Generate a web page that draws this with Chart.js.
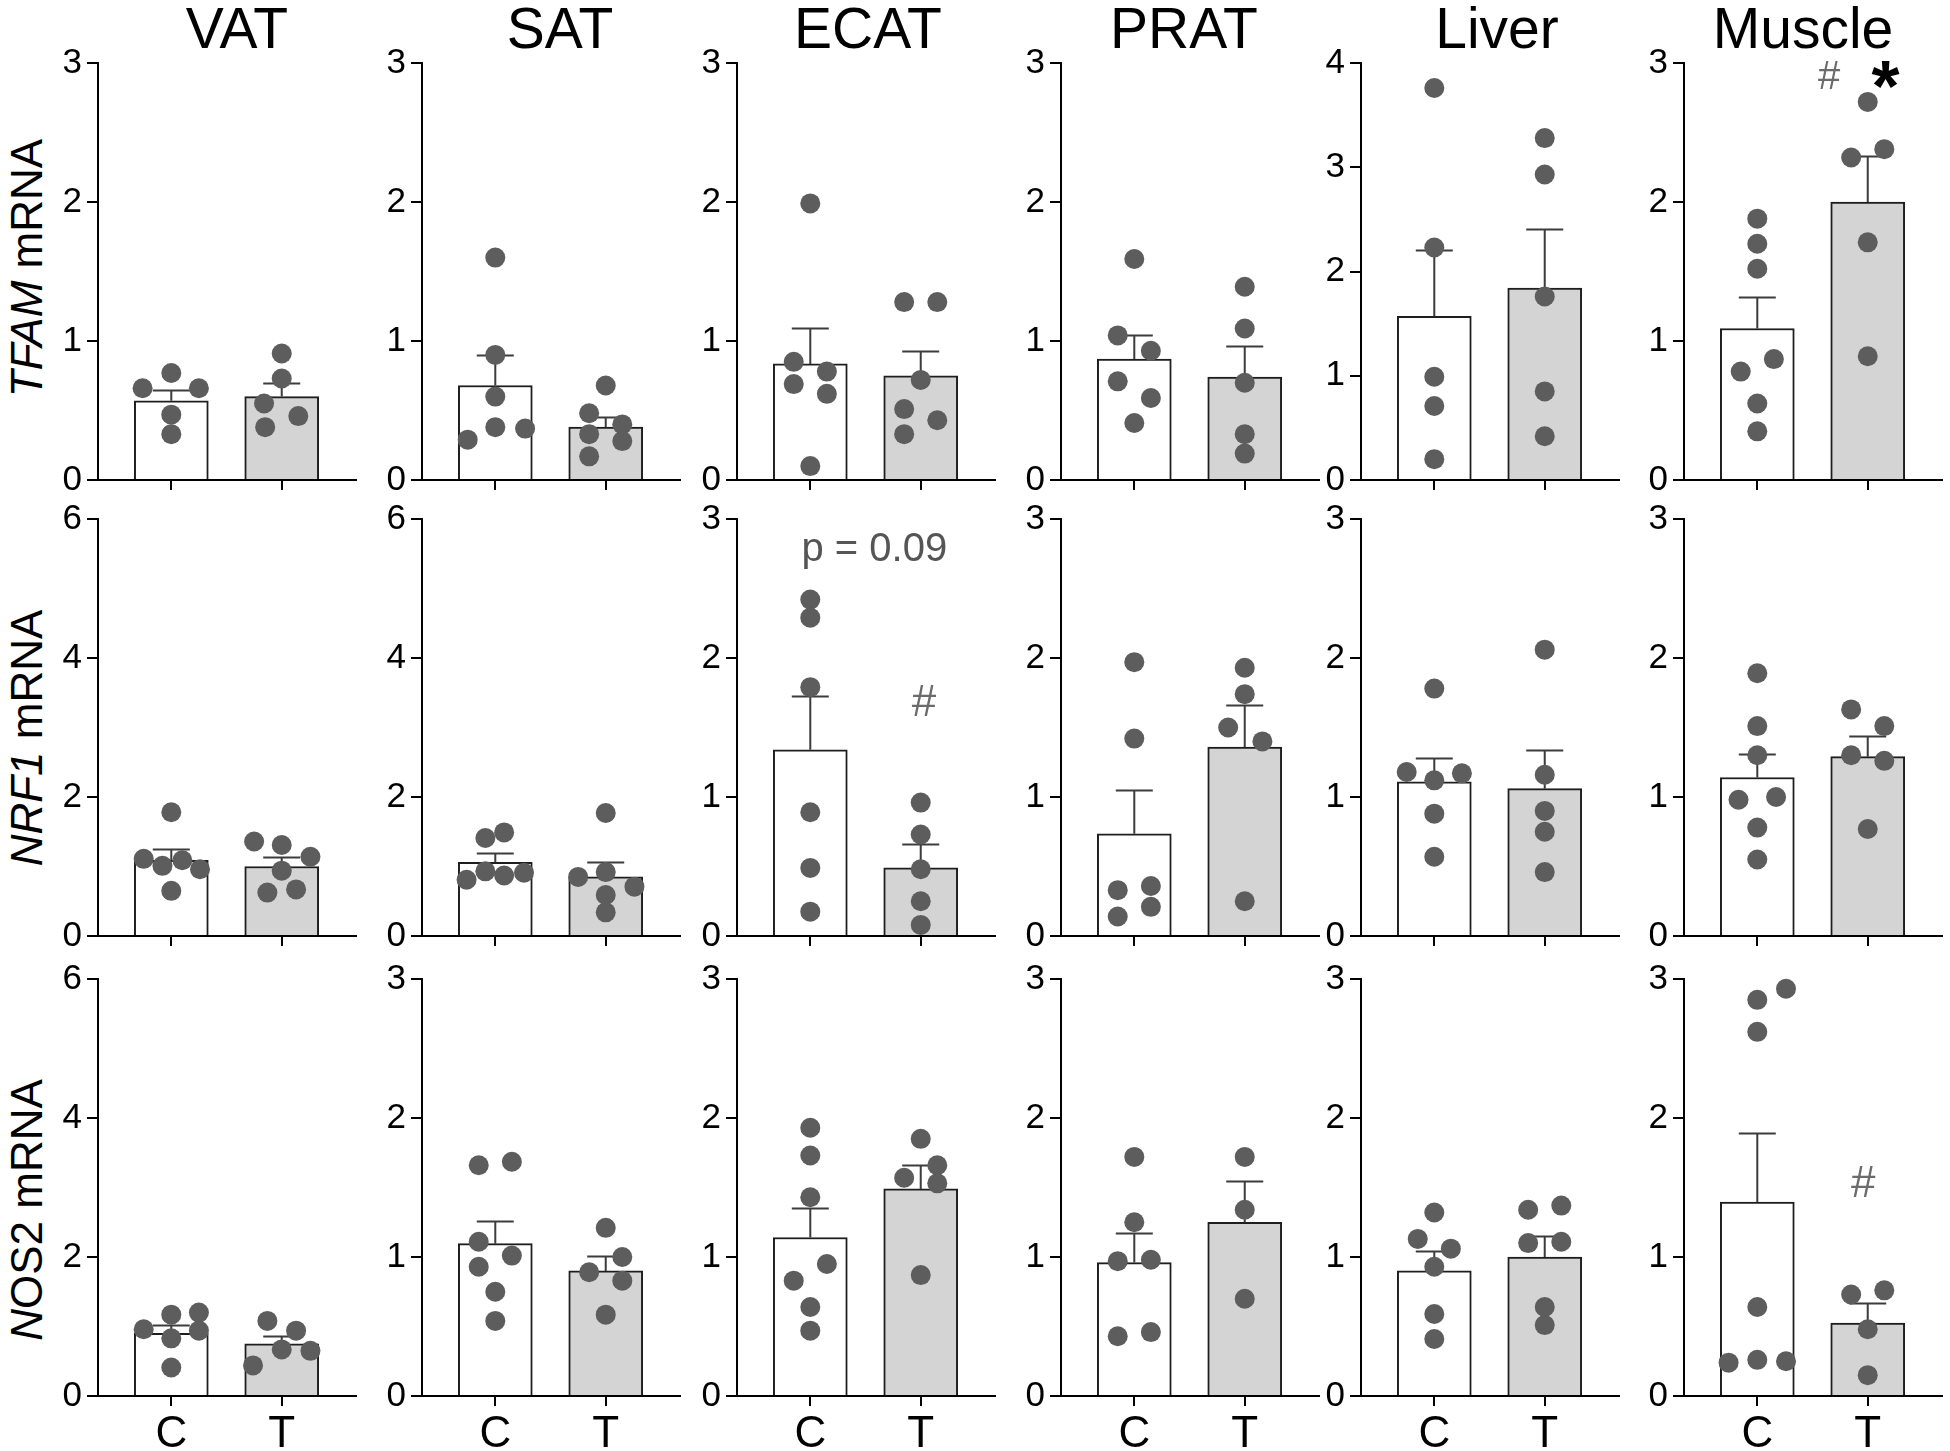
<!DOCTYPE html>
<html>
<head>
<meta charset="utf-8">
<script src="https://cdn.jsdelivr.net/npm/chart.js@4.4.1/dist/chart.umd.min.js"></script>
<style>
  body { margin: 0; background: #fff; width: 1950px; height: 1451px; position: relative; overflow: hidden;
         font-family: "Liberation Sans", Arial, sans-serif; }
  .title { position: absolute; top: 0; font-size: 57px; line-height: 57px; transform: translateX(-50%); white-space: nowrap; }
  .gene { position: absolute; font-size: 44px; line-height: 44px; white-space: nowrap; transform: translate(-50%, -50%) rotate(-90deg); }
  canvas { position: absolute; }
</style>
</head>
<body>
<script>
// tissues (columns) and genes (rows)
const tissues = ["VAT", "SAT", "ECAT", "PRAT", "Liver", "Muscle"];
const groups = ["C", "T"];
const geneLabels = ["<i>TFAM</i> mRNA", "<i>NRF1</i> mRNA", "<i>N</i>OS2 mRNA"];
const yMax = [[3, 3, 3, 3, 4, 3], [6, 6, 3, 3, 3, 3], [6, 3, 3, 3, 3, 3]];

// TFAM: bar means / SEM per tissue [C, T], points and their jitter
const tfamMean = [[0.57, 0.60], [0.68, 0.38], [0.835, 0.75], [0.87, 0.74], [1.57, 1.84], [1.09, 2.00]];
const tfamSem = [[0.08, 0.10], [0.22, 0.07], [0.255, 0.18], [0.175, 0.225], [0.64, 0.57], [0.23, 0.33]];
const tfamC = [[0.77, 0.66, 0.66, 0.47, 0.33], [1.60, 0.90, 0.60, 0.38, 0.37, 0.29], [1.99, 0.85, 0.78, 0.69, 0.62, 0.10],
  [1.59, 1.04, 0.93, 0.71, 0.59, 0.41], [3.76, 2.23, 0.99, 0.71, 0.20], [1.88, 1.70, 1.52, 0.87, 0.78, 0.55, 0.35]];
const tfamCx = [[0, -0.26, 0.25, 0, 0], [0, 0, 0, 0, 0.27, -0.25], [0, -0.15, 0.15, -0.15, 0.15, 0],
  [0, -0.15, 0.15, -0.15, 0.15, 0], [0, 0, 0, 0, 0], [0, 0, 0, 0.15, -0.15, 0, 0]];
const tfamT = [[0.91, 0.73, 0.55, 0.46, 0.38], [0.68, 0.48, 0.40, 0.33, 0.28, 0.17], [1.28, 1.28, 0.72, 0.51, 0.43, 0.33],
  [1.39, 1.09, 0.70, 0.33, 0.19], [3.28, 2.93, 1.76, 0.85, 0.42], [2.72, 2.38, 2.32, 1.71, 0.89]];
const tfamTx = [[0, 0, -0.16, 0.15, -0.15], [0, -0.15, 0.15, -0.15, 0.15, -0.15], [-0.15, 0.15, 0, -0.15, 0.15, -0.15],
  [0, 0, 0, 0, 0], [0, 0, 0, 0, 0], [0, 0.15, -0.15, 0, 0]];

// NRF1
const nrf1Mean = [[1.09, 1.00], [1.06, 0.85], [1.34, 0.49], [0.735, 1.36], [1.11, 1.06], [1.14, 1.29]];
const nrf1Sem = [[0.16, 0.13], [0.13, 0.21], [0.39, 0.17], [0.315, 0.30], [0.17, 0.28], [0.17, 0.15]];
const nrf1C = [[1.78, 1.11, 1.09, 1.01, 0.96, 0.65], [1.49, 1.41, 0.93, 0.87, 0.91, 0.81], [2.42, 2.29, 1.79, 0.89, 0.49, 0.175],
  [1.97, 1.42, 0.33, 0.14, 0.36, 0.21], [1.78, 1.18, 1.12, 1.17, 0.88, 0.57], [1.89, 1.51, 1.30, 0.98, 1.00, 0.78, 0.55]];
const nrf1Cx = [[0, -0.25, 0.1, -0.08, 0.26, 0], [0.08, -0.09, -0.09, 0.08, 0.26, -0.26], [0, 0, 0, 0, 0, 0],
  [0, 0, -0.15, -0.15, 0.15, 0.15], [0, -0.25, 0, 0.25, 0, 0], [0, 0, 0, -0.17, 0.17, 0, 0]];
const nrf1T = [[1.36, 1.31, 1.14, 0.94, 0.625, 0.67], [1.77, 0.92, 0.85, 0.71, 0.59, 0.34], [0.96, 0.73, 0.48, 0.25, 0.08],
  [1.93, 1.74, 1.50, 1.40, 0.25], [2.06, 1.16, 0.90, 0.75, 0.46], [1.63, 1.51, 1.30, 1.26, 0.77]];
const nrf1Tx = [[-0.25, 0, 0.26, 0, -0.13, 0.13], [0, 0, -0.25, 0.26, 0, 0], [0, 0, 0, 0, 0],
  [0, 0, -0.15, 0.16, 0], [0, 0, 0, 0, 0], [-0.15, 0.15, -0.15, 0.15, 0]];

// NOS2
const nos2Mean = [[0.90, 0.75], [1.096, 0.90], [1.14, 1.49], [0.96, 1.25], [0.90, 1.00], [1.395, 0.525]];
const nos2Sem = [[0.125, 0.11], [0.165, 0.11], [0.21, 0.17], [0.21, 0.30], [0.14, 0.15], [0.50, 0.145]];
const nos2C = [[1.20, 1.17, 0.96, 0.94, 0.83, 0.41], [1.66, 1.685, 1.11, 1.01, 0.93, 0.75, 0.54], [1.93, 1.73, 1.43, 0.95, 0.83, 0.64, 0.47],
  [1.72, 1.25, 0.97, 0.98, 0.43, 0.46], [1.32, 1.13, 1.06, 0.93, 0.59, 0.41], [2.93, 2.85, 2.62, 0.64, 0.26, 0.24, 0.25]];
const nos2Cx = [[0.25, 0, -0.25, 0.25, 0, 0], [-0.15, 0.15, -0.15, 0.15, -0.15, 0, 0], [0, 0, 0, 0.15, -0.15, 0, 0],
  [0, 0, -0.15, 0.15, -0.15, 0.15], [0, -0.15, 0.15, 0, 0, 0], [0.26, 0, 0, 0, 0, -0.26, 0.26]];
const nos2T = [[1.08, 0.94, 0.67, 0.65, 0.44], [1.21, 1.00, 0.89, 0.83, 0.585], [1.85, 1.66, 1.57, 1.53, 0.87],
  [1.72, 1.34, 0.70], [1.34, 1.37, 1.10, 1.11, 0.64, 0.51], [0.73, 0.76, 0.48, 0.15]];
const nos2Tx = [[-0.13, 0.13, 0, 0.26, -0.26], [0, 0.15, -0.15, 0.15, 0], [0, 0.15, -0.15, 0.15, 0],
  [0, 0, 0], [-0.15, 0.15, -0.15, 0.15, 0, 0], [-0.15, 0.15, 0, 0]];

// significance marks
const notes = [
  { row: 0, col: 5, text: "#", x: 0.65, y: 2.89, color: "#6b6b6b", size: 40, weight: "normal", dy: 0 },
  { row: 0, col: 5, text: "*", x: 1.16, y: 2.91, color: "#000", size: 72, weight: "bold", dy: 16 },
  { row: 1, col: 2, text: "p = 0.09", x: 0.58, y: 2.78, color: "#555", size: 40, weight: "normal", dy: 0 },
  { row: 1, col: 2, text: "#", x: 1.03, y: 1.67, color: "#6b6b6b", size: 44, weight: "normal", dy: 0 },
  { row: 2, col: 5, text: "#", x: 0.96, y: 1.52, color: "#6b6b6b", size: 44, weight: "normal", dy: 0 }
];

const rows = [
  { mean: tfamMean, sem: tfamSem, c: tfamC, cx: tfamCx, t: tfamT, tx: tfamTx },
  { mean: nrf1Mean, sem: nrf1Sem, c: nrf1C, cx: nrf1Cx, t: nrf1T, tx: nrf1Tx },
  { mean: nos2Mean, sem: nos2Sem, c: nos2C, cx: nos2Cx, t: nos2T, tx: nos2Tx }
];

// layout
const colX = [98, 422, 737, 1061, 1361, 1684];
const titleX = [237, 560, 868, 1184, 1497, 1803];
const rowTop = [63, 519, 979];
const geneY = [268, 738, 1210];
const plotW = 264, plotH = 417, padL = 64, padT = 26, padR = 4, axisH = 62;
const xMin = -75 / 113, xMax = xMin + plotW / 113;

Chart.defaults.font.family = '"Liberation Sans", Arial, sans-serif';
Chart.defaults.color = "#000";

const errorBars = {
  id: "errorBars",
  afterDatasetDraw(chart, args, opts) {
    if (args.meta.type !== "bar") return;
    const ctx = chart.ctx, y = chart.scales.y;
    ctx.save();
    ctx.strokeStyle = "#3c3c3c";
    ctx.lineWidth = 2;
    args.meta.data.forEach((bar, i) => {
      const top = Math.round(y.getPixelForValue(opts.mean[i] + opts.sem[i])) + 0.5;
      ctx.beginPath();
      ctx.moveTo(bar.x, bar.y);
      ctx.lineTo(bar.x, top);
      ctx.moveTo(bar.x - 18.5, top);
      ctx.lineTo(bar.x + 18.5, top);
      ctx.stroke();
    });
    ctx.restore();
  }
};

const noteMarks = {
  id: "noteMarks",
  afterDraw(chart, args, opts) {
    const ctx = chart.ctx;
    ctx.save();
    ctx.textAlign = "center";
    ctx.textBaseline = "middle";
    for (const n of opts.items) {
      ctx.fillStyle = n.color;
      ctx.font = `${n.weight} ${n.size}px "Liberation Sans", Arial, sans-serif`;
      ctx.fillText(n.text, chart.scales.x.getPixelForValue(n.x), chart.scales.y.getPixelForValue(n.y) + n.dy);
    }
    ctx.restore();
  }
};

tissues.forEach((name, c) => {
  const d = document.createElement("div");
  d.className = "title";
  d.style.left = titleX[c] + "px";
  d.textContent = name;
  document.body.appendChild(d);
});

geneLabels.forEach((g, r) => {
  const d = document.createElement("div");
  d.className = "gene";
  d.style.left = "27px";
  d.style.top = geneY[r] + "px";
  d.innerHTML = g;
  document.body.appendChild(d);
});

rows.forEach((row, r) => {
  tissues.forEach((name, c) => {
    const canvas = document.createElement("canvas");
    canvas.width = padL + plotW + padR;
    canvas.height = padT + plotH + axisH;
    canvas.style.left = (colX[c] - padL) + "px";
    canvas.style.top = (rowTop[r] - padT) + "px";
    document.body.appendChild(canvas);

    const pts = row.c[c].map((v, i) => ({ x: 0 + row.cx[c][i], y: v }))
      .concat(row.t[c].map((v, i) => ({ x: 1 + row.tx[c][i], y: v })));
    const max = yMax[r][c];

    new Chart(canvas, {
      type: "bar",
      data: {
        datasets: [
          {
            type: "scatter",
            data: pts,
            pointRadius: 10,
            pointBackgroundColor: "#5d5d5d",
            pointBorderWidth: 0,
            clip: false,
            order: 1
          },
          {
            type: "bar",
            data: [{ x: 0, y: row.mean[c][0] }, { x: 1, y: row.mean[c][1] }],
            backgroundColor: ["#ffffff", "#d4d4d4"],
            borderColor: "#1e1e1e",
            borderWidth: 2,
            barThickness: 74,
            order: 2
          }
        ]
      },
      options: {
        responsive: false,
        animation: false,
        events: [],
        layout: { padding: { left: 0, right: padR, top: padT, bottom: 0 } },
        plugins: {
          legend: { display: false },
          tooltip: { enabled: false },
          errorBars: { mean: row.mean[c], sem: row.sem[c] },
          noteMarks: { items: notes.filter(n => n.row === r && n.col === c) }
        },
        scales: {
          x: {
            type: "linear",
            min: xMin,
            max: xMax,
            offset: false,
            afterBuildTicks: axis => { axis.ticks = [{ value: 0 }, { value: 1 }]; },
            afterFit: axis => { axis.height = axisH; },
            grid: { offset: false, drawOnChartArea: false, drawTicks: true, tickLength: 10, color: "#000", lineWidth: 2 },
            border: { display: true, color: "#000", width: 2 },
            ticks: {
              display: r === 2,
              font: { size: 44 },
              padding: 2,
              maxRotation: 0,
              autoSkip: false,
              callback: v => groups[v] || ""
            }
          },
          y: {
            min: 0,
            max: max,
            afterFit: axis => { axis.width = padL; },
            grid: { drawOnChartArea: false, drawTicks: true, tickLength: 11, color: "#000", lineWidth: 2 },
            border: { display: true, color: "#000", width: 2 },
            ticks: { stepSize: max === 6 ? 2 : 1, font: { size: 35 }, padding: 5 }
          }
        }
      },
      plugins: [errorBars, noteMarks]
    });
  });
});
</script>
</body>
</html>
